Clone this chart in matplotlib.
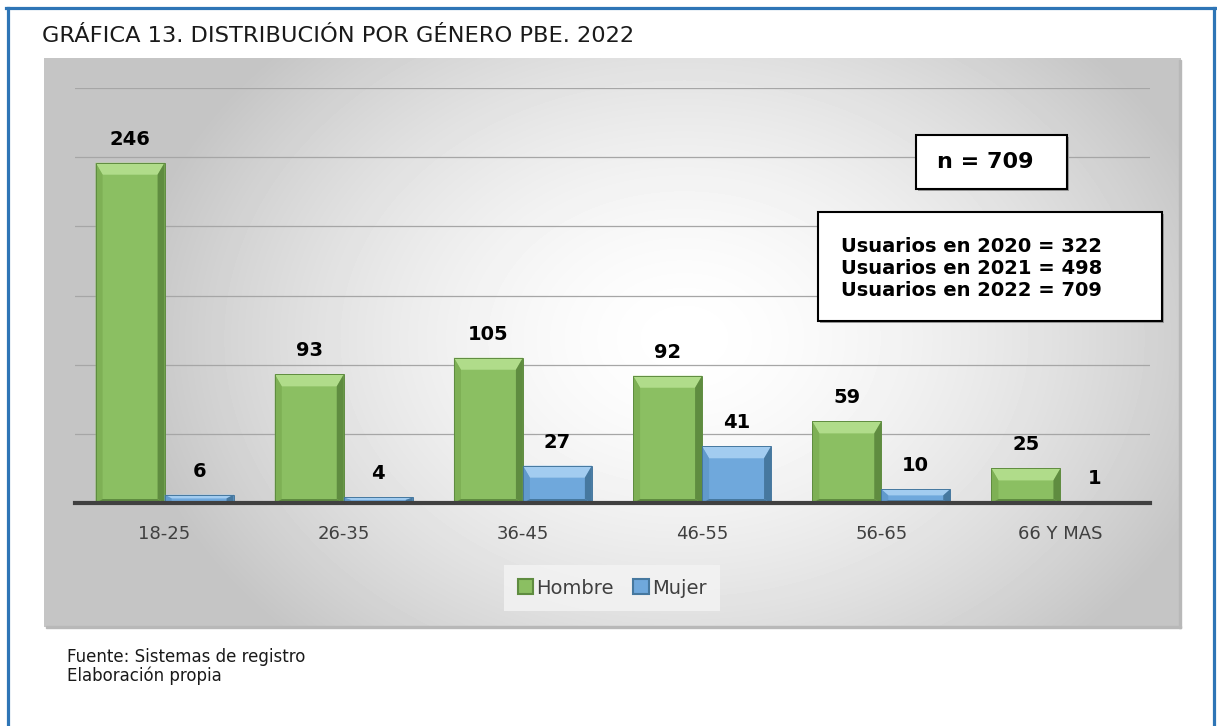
import numpy as np
import matplotlib
matplotlib.use("Agg")
import matplotlib.pyplot as plt
from matplotlib.patches import Rectangle, Polygon
from matplotlib.lines import Line2D

# datos
categories = ["18-25", "26-35", "36-45", "46-55", "56-65", "66 Y MAS"]
hombre = [246, 93, 105, 92, 59, 25]
mujer = [6, 4, 27, 41, 10, 1]
series_names = ["Hombre", "Mujer"]
n_total = 709
usuarios_years = [2020, 2021, 2022]
usuarios_counts = [322, 498, 709]
title = "GRÁFICA 13. DISTRIBUCIÓN POR GÉNERO PBE. 2022"
footer = ["Fuente: Sistemas de registro", "Elaboración propia"]

W, H = 1217, 726
GREEN = "#8bbf62"
BLUE = "#6fa8dc"
SHADES = {
    GREEN: ("#b0dc8a", "#7eb055", "#5f8c40"),
    BLUE: ("#a2ccf0", "#619acc", "#46789f"),
}


def fbox(x0, y0, x1, y1):
    """pixel box (top-left origin) -> figure fraction rect"""
    return [x0 / W, 1 - y1 / H, (x1 - x0) / W, (y1 - y0) / H]


fig = plt.figure(figsize=(W / 100, H / 100), dpi=100)
fig.patch.set_facecolor("white")

# fondo gris con degradado radial
bg = fig.add_axes(fbox(44, 58, 1181, 627), zorder=0)
gh, gw = 569, 1137
yy, xx = np.mgrid[0:gh, 0:gw]
r = np.sqrt(((xx - 640) / 560.0) ** 2 + ((yy - 280) / 420.0) ** 2)
val = 1 - 0.23 * np.clip(r, 0, 1) ** 1.6
bg.imshow(val, cmap="gray", vmin=0, vmax=1, aspect="auto", interpolation="bilinear")
bg.set_axis_off()
fig.add_artist(Rectangle((1179 / W, 1 - 628 / H), 2 / W, 568 / H,
                         transform=fig.transFigure, color="#b8b8b8", zorder=0.5))
fig.add_artist(Rectangle((46 / W, 1 - 628 / H), 1135 / W, 2 / H,
                         transform=fig.transFigure, color="#b8b8b8", zorder=0.5))

# ejes principales
ax = fig.add_axes(fbox(75, 88, 1150, 503), zorder=1)
ax.patch.set_alpha(0)
ax.set_xlim(-0.5, len(categories) - 0.5)
ax.set_ylim(0, 300)
ax.set_yticks(range(0, 301, 50))
ax.yaxis.grid(True, color="#a6a6a6", linewidth=0.9)
ax.set_axisbelow(True)
ax.tick_params(axis="y", length=0, labelleft=False)
for s in ("left", "right", "top"):
    ax.spines[s].set_visible(False)
ax.spines["bottom"].set_color("#404040")
ax.spines["bottom"].set_linewidth(3)
ax.spines["bottom"].set_zorder(6)

x = np.arange(len(categories))
w = 0.385
ax.set_xticks(x)
ax.set_xticklabels(categories, fontsize=13, color="#404040")
ax.tick_params(axis="x", length=0, pad=16)

bars_h = ax.bar(x - w / 2, hombre, w, color=GREEN, zorder=3)
bars_m = ax.bar(x + w / 2, mujer, w, color=BLUE, zorder=3)

# bisel tipo Excel
ux = 1075 / len(categories)
uy = 415 / 300


def bevel(bars, color):
    light, mid, dark = SHADES[color]
    for b in bars:
        x0, bw, h = b.get_x(), b.get_width(), b.get_height()
        x1 = x0 + bw
        dx = 7 / ux
        dyt = min(12 / uy, h * 0.45)
        dyb = min(4 / uy, h * 0.2)
        polys = [
            ([(x0, h), (x1, h), (x1 - dx, h - dyt), (x0 + dx, h - dyt)], light),
            ([(x0, 0), (x0, h), (x0 + dx, h - dyt), (x0 + dx, dyb)], mid),
            ([(x1, 0), (x1, h), (x1 - dx, h - dyt), (x1 - dx, dyb)], dark),
            ([(x0, 0), (x1, 0), (x1 - dx, dyb), (x0 + dx, dyb)], dark),
        ]
        for pts, c in polys:
            ax.add_patch(Polygon(pts, closed=True, facecolor=c, edgecolor="none", zorder=4))
        ax.add_patch(Rectangle((x0, 0), bw, h, fill=False, edgecolor=dark,
                               linewidth=0.7, zorder=5))
        ax.annotate(f"{int(h)}", (x0 + bw / 2, h), xytext=(0, 17),
                    textcoords="offset points", ha="center", va="center",
                    fontsize=14, fontweight="bold", color="black", zorder=7)


bevel(bars_h, GREEN)
bevel(bars_m, BLUE)

# leyenda
handles = [Rectangle((0, 0), 1, 1, facecolor=GREEN, edgecolor=SHADES[GREEN][2], linewidth=1.5),
           Rectangle((0, 0), 1, 1, facecolor=BLUE, edgecolor=SHADES[BLUE][2], linewidth=1.5)]
leg = fig.legend(handles, series_names, loc="center", bbox_to_anchor=(612 / W, 1 - 588 / H),
                 ncol=2, frameon=True, fontsize=14, handlelength=0.8, handleheight=0.8,
                 handletextpad=0.15, columnspacing=1.0, borderpad=0.7, fancybox=False)
leg.get_frame().set_facecolor("#f4f4f4")
leg.get_frame().set_edgecolor("none")
for t in leg.get_texts():
    t.set_color("#404040")

# cuadros de texto
def text_box(x0, y0, x1, y1):
    fig.add_artist(Rectangle((x0 / W + 2 / W, 1 - y1 / H - 2 / H), (x1 - x0) / W, (y1 - y0) / H,
                             transform=fig.transFigure, facecolor="#9a9a9a",
                             edgecolor="none", zorder=7))
    fig.add_artist(Rectangle((x0 / W, 1 - y1 / H), (x1 - x0) / W, (y1 - y0) / H,
                             transform=fig.transFigure, facecolor="white",
                             edgecolor="black", linewidth=1.5, zorder=8))


text_box(916, 135, 1067, 189)
fig.text(985 / W, 1 - 162 / H, f"n = {n_total}", fontsize=16, fontweight="bold",
         ha="center", va="center", zorder=9)

text_box(818, 212, 1162, 321)
for i, (yr, cnt) in enumerate(zip(usuarios_years, usuarios_counts)):
    fig.text(841 / W, 1 - (246 + 22.5 * i) / H, f"Usuarios en {yr} = {cnt}",
             fontsize=14, fontweight="bold", ha="left", va="center", zorder=9)

# titulo y pie
fig.text(42 / W, 1 - 36 / H, title, fontsize=16.2, ha="left", va="center", color="#1a1a1a")
fig.text(67 / W, 1 - 657 / H, footer[0], fontsize=12, ha="left", va="center", color="#1a1a1a")
fig.text(67 / W, 1 - 676 / H, footer[1], fontsize=12, ha="left", va="center", color="#1a1a1a")

# marco azul
border = dict(color="#2e75b6", linewidth=2.3, transform=fig.transFigure, zorder=10)
fig.add_artist(Line2D([7.5 / W, 7.5 / W], [0, 1 - 7.5 / H], **border))
fig.add_artist(Line2D([6 / W, 1215 / W], [1 - 7.5 / H, 1 - 7.5 / H], **border))
fig.add_artist(Line2D([1213.5 / W, 1213.5 / W], [0, 1 - 7.5 / H], **border))

fig.savefig("out.png", dpi=100)
